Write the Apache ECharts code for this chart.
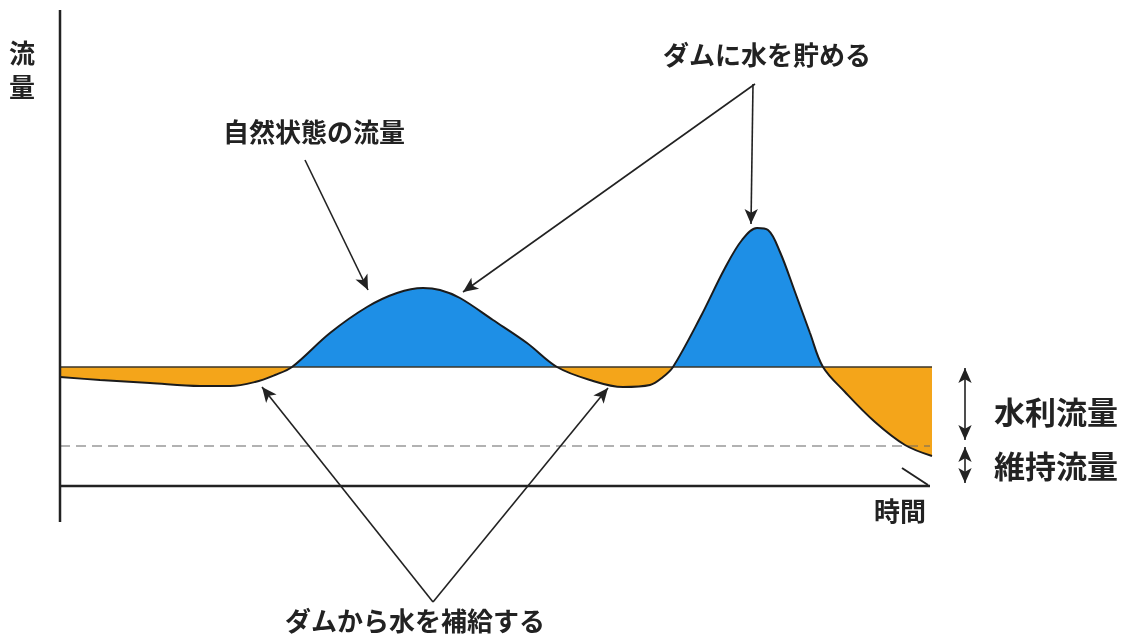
<!DOCTYPE html>
<html>
<head>
<meta charset="utf-8">
<script src="https://cdn.jsdelivr.net/npm/echarts@6/dist/echarts.min.js"></script>
<style>html,body{margin:0;padding:0;background:#fff}#c{width:1126px;height:638px}</style>
</head>
<body>
<div id="c"></div>
<script>
// Natural flow curve: [time, flow]
const naturalFlow = [
  [0,109],[40,106],[90,103],[140,100],[170,100],[195,104],[215,111],[232,119],
  [270,153],[307,179],[337,193],[363,198],[380,196],[400,188],[433,166],[467,143],
  [497,119],[530,106],[563,99],[590,101],[603,109],[613,119],
  [640,168],[665,218],[682,246],[697,258],[708,256],[720,234],[735,194],[750,153],[763,119],
  [785,94],[815,64],[845,41],[872,30]
];
const waterUseFlow = 119;     // 水利流量 level
const maintenanceFlow = 40;   // 維持流量 level
const timeEnd = 872;
const plotAxisX = [[0,0],[870,0]];
const plotAxisY = [[0,-36],[0,476]];
const viewX = [-60, 1066];
const viewY = [-152, 486];

// Annotation arrows: [from, to]
const arrowsNatural = [[[245,326],[308,196]]];
const arrowsStore = [[[695,402],[403,194]],[[693,402],[691,262]]];
const arrowsSupply = [[[373,-116],[202,99]],[[373,-116],[548,98]]];
const dimArrows = [[[905,118],[905,46]],[[905,39],[905,3]]];
const axisTick = [[842,18],[868,1]];

const labels = {
  yName: '流\n量', xName: '時間',
  natural: '自然状態の流量', store: 'ダムに水を貯める', supply: 'ダムから水を補給する',
  waterUse: '水利流量', maintain: '維持流量'
};

const font = '"Noto Sans CJK JP", "Noto Sans", sans-serif';
const ink = '#222';
function ml(pairs, symbols) {
  return pairs.map(p => [
    {coord: p[0], symbol: symbols[0]},
    {coord: p[1], symbol: symbols[1]}
  ]);
}
function seg(data, style, z) {
  return {type: 'line', data: data, symbol: 'none', silent: true, z: z || 2, lineStyle: style};
}

const chart = echarts.init(document.getElementById('c'));
chart.setOption({
  animation: false,
  backgroundColor: '#fff',
  grid: {left: 0, right: 0, top: 0, bottom: 0},
  xAxis: {type: 'value', min: viewX[0], max: viewX[1], show: false},
  yAxis: {type: 'value', min: viewY[0], max: viewY[1], show: false},
  visualMap: {
    show: false, type: 'piecewise', seriesIndex: 0, dimension: 1,
    pieces: [
      {gt: waterUseFlow, lte: viewY[1], color: '#1e8fe6'},
      {gte: viewY[0], lte: waterUseFlow, color: '#f4a51a'}
    ]
  },
  series: [
    {
      type: 'line', data: naturalFlow, smooth: 0.35, symbol: 'none',
      lineStyle: {width: 0, opacity: 0},
      areaStyle: {origin: waterUseFlow, opacity: 1},
      silent: true, z: 1
    },
    seg([[0, waterUseFlow], [timeEnd, waterUseFlow]], {color: '#3a3428', width: 1.5}),
    seg([[0, maintenanceFlow], [timeEnd - 2, maintenanceFlow]], {color: '#666', width: 1.2, type: [10, 6]}),
    {
      type: 'line', data: naturalFlow, smooth: 0.35, symbol: 'none',
      lineStyle: {color: '#1b1b1b', width: 2}, silent: true, z: 3
    },
    seg(plotAxisX, {color: '#222', width: 2.5}, 3),
    seg(plotAxisY, {color: '#222', width: 2.5}, 3),
    seg(axisTick, {color: '#222', width: 2}, 3),
    {
      type: 'line', data: [], silent: true, z: 4,
      markLine: {
        silent: true, animation: false, symbolSize: [10, 15],
        label: {show: false}, emphasis: {disabled: true},
        lineStyle: {color: ink, width: 1.6, type: 'solid'},
        data: [].concat(
          ml(arrowsNatural, ['none', 'arrow']),
          ml(arrowsStore, ['none', 'arrow']),
          ml(arrowsSupply, ['none', 'arrow']),
          ml(dimArrows, ['arrow', 'arrow'])
        )
      }
    }
  ],
  graphic: [
    {type: 'text', left: 9, top: 36, style: {text: labels.yName, font: 'bold 26px ' + font, fill: ink, lineHeight: 34}},
    {type: 'text', x: 314, y: 132, style: {text: labels.natural, font: 'bold 26px ' + font, fill: ink, align: 'center', verticalAlign: 'middle'}},
    {type: 'text', x: 767, y: 55, style: {text: labels.store, font: 'bold 26px ' + font, fill: ink, align: 'center', verticalAlign: 'middle'}},
    {type: 'text', x: 415, y: 621, style: {text: labels.supply, font: 'bold 26px ' + font, fill: ink, align: 'center', verticalAlign: 'middle'}},
    {type: 'text', x: 1056, y: 412, style: {text: labels.waterUse, font: 'bold 31px ' + font, fill: ink, align: 'center', verticalAlign: 'middle'}},
    {type: 'text', x: 1056, y: 466, style: {text: labels.maintain, font: 'bold 31px ' + font, fill: ink, align: 'center', verticalAlign: 'middle'}},
    {type: 'text', x: 900, y: 511, style: {text: labels.xName, font: 'bold 26px ' + font, fill: ink, align: 'center', verticalAlign: 'middle'}}
  ]
});
</script>
</body>
</html>
